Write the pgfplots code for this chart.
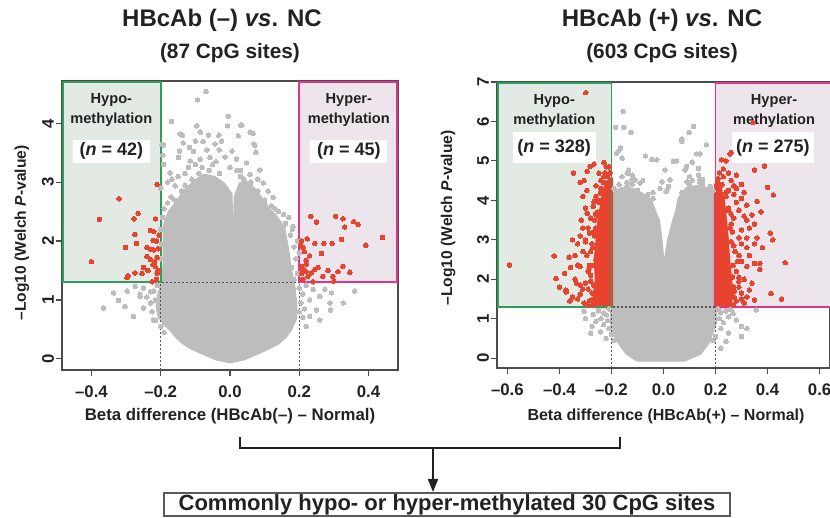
\documentclass[border=0pt]{standalone}
\usepackage{fontspec}
\setmainfont{Liberation Sans}
\usepackage{pgfplots}
\pgfplotsset{compat=1.18}
\usetikzlibrary{arrows.meta}

\definecolor{ptgray}{HTML}{BDBDBD}
\definecolor{ptred}{HTML}{E8432F}
\definecolor{hypofill}{HTML}{E3EAE3}
\definecolor{hyperfill}{HTML}{ECE6EC}
\definecolor{hypoline}{HTML}{2E9E5B}
\definecolor{hyperline}{HTML}{E2338B}
\definecolor{dotcol}{HTML}{555555}
\definecolor{txt}{HTML}{222222}

\pgfplotsset{
  vp/.style={scale only axis, anchor=south west,
    axis line style={draw=gray!60!black, line width=0.6pt},
    tick align=outside, major tick length=3pt, tick pos=left,
    tick style={draw=gray!60!black, line width=0.6pt},
    ticklabel style={font=\fontsize{8.4}{9}\selectfont\bfseries, text=txt},
    yticklabel style={rotate=90, anchor=south},
    xticklabel shift=1.5pt, yticklabel shift=-2.5pt,
    clip=true},
  gp/.style={only marks, mark=*, mark size=1.15pt, color=ptgray, mark options={draw=ptgray, fill=ptgray, line width=0pt}},
  rp/.style={only marks, mark=*, mark size=1.15pt, color=ptred, mark options={draw=ptred, fill=ptred, line width=0pt}},
  gcloud/.style={fill=ptgray, draw=ptgray, line width=1.6pt, line join=round},
  rcloud/.style={fill=ptred, draw=ptred, line width=1.6pt, line join=round},
  dotl/.style={draw=dotcol, dash pattern=on 0.8pt off 1.2pt, line width=0.7pt},
}
\tikzset{
  reglab/.style={font=\fontsize{7.3}{10}\selectfont\bfseries, align=center, text=txt},
  nbox/.style={fill=white, font=\fontsize{9}{10}\selectfont\bfseries, text=txt, inner sep=0pt},
}

\begin{document}
\begin{tikzpicture}
\useasboundingbox (0,0) rectangle (415pt,259pt);

% titles
\node[font=\fontsize{12}{14}\selectfont\bfseries, text=txt] at (111pt,249pt) {HBcAb (–) \textit{vs}. NC};
\node[font=\fontsize{10.4}{12}\selectfont\bfseries, text=txt] at (115pt,232.5pt) {(87 CpG sites)};
\node[font=\fontsize{12}{14}\selectfont\bfseries, text=txt] at (331pt,249pt) {HBcAb (+) \textit{vs}. NC};
\node[font=\fontsize{10.4}{12}\selectfont\bfseries, text=txt] at (331pt,232.5pt) {(603 CpG sites)};

% ---------------- left panel ----------------
\begin{axis}[vp, at={(31pt,74pt)}, width=168pt, height=144.5pt,
  xmin=-0.485, xmax=0.485, ymin=-0.19, ymax=4.72,
  xtick={-0.4,-0.2,0,0.2,0.4}, xticklabels={–0.4,–0.2,0.0,0.2,0.4},
  ytick={0,1,2,3,4}, yticklabels={0,1,2,3,4}]
\addplot[draw=none, fill=hypofill] coordinates {(-0.485,1.3) (-0.2,1.3) (-0.2,4.72) (-0.485,4.72)} -- cycle;
\addplot[draw=none, fill=hyperfill] coordinates {(0.2,1.3) (0.485,1.3) (0.485,4.72) (0.2,4.72)} -- cycle;
% dense non-significant cloud
\addplot[gcloud] coordinates {
(0,-0.05) (-0.04,0.0) (-0.08,0.1) (-0.11,0.18) (-0.135,0.27) (-0.155,0.38) (-0.17,0.49) (-0.19,0.6)
(-0.205,0.72) (-0.21,0.9) (-0.205,1.1) (-0.195,1.3) (-0.19,1.6) (-0.19,2.0) (-0.188,2.3) (-0.175,2.5)
(-0.155,2.65) (-0.13,2.85) (-0.105,3.0) (-0.075,3.12) (-0.045,3.08) (-0.02,2.98) (0.003,2.8) (0.005,1.85)
(0.012,1.85) (0.015,2.75) (0.03,2.98) (0.05,3.0) (0.075,2.85) (0.095,2.68) (0.115,2.52) (0.135,2.4)
(0.155,2.22) (0.165,1.9) (0.175,1.5) (0.185,1.2) (0.19,0.9) (0.19,0.7) (0.175,0.5) (0.16,0.38)
(0.14,0.27) (0.11,0.18) (0.08,0.1) (0.04,0.0)} -- cycle;
\addplot[gp] coordinates {
(-0.069,4.54) (-0.094,4.40) (-0.005,4.12) (-0.169,4.03) (-0.096,3.96) (0.031,3.97) (-0.007,3.96)
(0.058,3.85) (-0.138,3.80) (-0.086,3.85) (-0.062,3.80) (-0.032,3.80) (0.024,3.79) (-0.135,3.67)
(-0.10,3.70) (-0.078,3.69) (-0.024,3.70) (0.069,3.65) (-0.192,3.63) (-0.117,3.59) (-0.043,3.65)
(-0.146,3.53) (-0.105,3.52) (-0.067,3.55) (-0.031,3.55) (0.006,3.53) (0.075,3.51) (-0.149,3.42)
(-0.058,3.42) (-0.014,3.43) (0.019,3.39) (-0.192,3.30) (-0.115,3.36) (-0.086,3.39) (0.048,3.33)
(0.086,3.21) (-0.173,3.16) (0.058,3.13) (0.096,2.99) (0.125,2.74) (0.10,2.62) (0.154,2.25)
(0.182,2.25) (-0.194,3.46) (-0.168,3.05) (-0.158,2.94) (0.034,3.97) (0.067,3.83) (0.072,3.63)
(-0.144,3.82) (-0.197,3.64) (-0.12,3.25) (-0.1,3.3) (-0.04,3.35) (0.0,3.25) (0.03,3.2) (0.08,3.05)
(0.11,2.85) (-0.15,3.1) (-0.13,3.15) (-0.2,2.9) (-0.18,3.0)
(0.16,2.3) (0.175,2.1) (0.185,1.9) (0.19,1.7) (0.178,1.55) (0.195,1.45) (0.185,1.35) (0.17,2.4)
(0.155,2.45) (0.14,2.5) (0.13,2.55) (0.18,2.2) (0.195,2.0) (0.2,1.8)
(0.2,1.2) (0.21,1.1) (0.205,0.95) (0.215,0.85) (0.2,0.8) (0.22,1.25) (0.23,1.0) (0.21,0.7)
(-0.21,1.25) (-0.22,1.15) (-0.215,1.0) (-0.23,0.95) (-0.24,1.05) (-0.225,0.8) (-0.215,0.65)
(-0.2,0.55) (-0.19,0.45) (-0.25,1.2) (-0.26,1.1)
(-0.195,2.4) (-0.19,2.55) (-0.18,2.65) (-0.17,2.75) (-0.2,2.2) (-0.198,1.95) (-0.2,1.7) (-0.16,2.7)
(-0.14,2.85) (-0.13,2.95) (-0.11,3.05) (-0.09,3.15) (-0.06,3.2) (-0.03,3.15) (-0.05,3.3) (-0.08,3.25)
(0.04,3.05) (0.06,3.0) (0.08,2.85) (0.1,2.7) (0.12,2.6) (0.03,3.1) (0.02,3.2)
(-0.365,0.86) (-0.336,1.12) (-0.322,0.99) (-0.303,0.89) (-0.279,0.72) (-0.297,1.15) (-0.274,1.23)
(-0.259,1.06) (-0.25,0.86) (-0.23,1.14) (-0.228,0.95) (-0.221,0.66) (0.24,1.18) (0.259,1.06)
(0.274,1.18) (0.293,1.12) (0.327,0.95) (0.36,1.15) (0.289,0.95) (0.25,0.83) (0.23,0.72)
(0.259,0.66) (0.22,0.55) (0.29,0.83)};
% significant sites
\addplot[rp] coordinates {
(-0.377,2.37) (-0.32,2.72) (-0.21,2.96) (-0.277,2.38) (-0.265,2.47) (-0.215,2.38) (-0.275,2.11)
(-0.23,2.18) (-0.22,2.16) (-0.222,2.01) (-0.212,2.0) (-0.27,1.96) (-0.302,1.89) (-0.24,1.89)
(-0.228,1.86) (-0.207,1.87) (-0.40,1.65) (-0.297,1.38) (-0.294,1.41) (-0.274,1.46) (-0.254,1.45)
(-0.25,1.55) (-0.24,1.74) (-0.23,1.69) (-0.222,1.6) (-0.216,1.57) (-0.21,1.72) (-0.22,1.85)
(-0.225,1.31) (-0.21,1.45) (-0.208,1.5) (-0.237,1.5) (-0.218,1.65) (-0.205,2.1) (-0.212,1.35)};
\addplot[rp] coordinates {
(0.233,2.42) (0.25,2.32) (0.305,2.42) (0.326,2.38) (0.331,2.24) (0.357,2.33) (0.37,2.28)
(0.44,2.06) (0.322,2.03) (0.223,2.04) (0.207,2.0) (0.245,1.96) (0.271,1.96) (0.295,1.96)
(0.392,1.93) (0.211,1.89) (0.264,1.79) (0.22,1.67) (0.207,1.57) (0.21,1.53) (0.22,1.61)
(0.22,1.48) (0.235,1.46) (0.225,1.4) (0.245,1.52) (0.254,1.55) (0.268,1.4) (0.283,1.5)
(0.297,1.4) (0.312,1.48) (0.326,1.57) (0.346,1.47) (0.24,1.31) (0.3,1.32) (0.21,1.35)
(0.215,1.82) (0.207,1.45) (0.23,1.75) (0.205,1.93)};
\addplot[dotl] coordinates {(-0.2,-0.19) (-0.2,4.72)};
\addplot[dotl] coordinates {(0.2,-0.19) (0.2,4.72)};
\addplot[dotl] coordinates {(-0.485,1.3) (0.485,1.3)};
\addplot[draw=hypoline, line width=0.9pt] coordinates {(-0.482,1.3) (-0.2,1.3) (-0.2,4.70) (-0.482,4.70)} -- cycle;
\addplot[draw=hyperline, line width=0.9pt] coordinates {(0.2,1.3) (0.482,1.3) (0.482,4.70) (0.2,4.70)} -- cycle;
\node[reglab] at (axis cs:-0.3425,4.225) {Hypo-\\methylation};
\node[nbox, minimum width=38.5pt, minimum height=11.5pt] at (axis cs:-0.3425,3.53) {(\textit{n} = 42)};
\node[reglab] at (axis cs:0.343,4.225) {Hyper-\\methylation};
\node[nbox, minimum width=38.5pt, minimum height=11.5pt] at (axis cs:0.343,3.53) {(\textit{n} = 45)};
\end{axis}

% ---------------- right panel ----------------
\begin{axis}[vp, at={(248.5pt,75pt)}, width=166.5pt, height=143pt,
  xmin=-0.64, xmax=0.64, ymin=-0.25, ymax=7,
  xtick={-0.6,-0.4,-0.2,0,0.2,0.4,0.6}, xticklabels={–0.6,–0.4,–0.2,0.0,0.2,0.4,0.6},
  ytick={0,1,2,3,4,5,6,7}, yticklabels={0,1,2,3,4,5,6,7}]
\addplot[draw=none, fill=hypofill] coordinates {(-0.64,1.3) (-0.2,1.3) (-0.2,7) (-0.64,7)} -- cycle;
\addplot[draw=none, fill=hyperfill] coordinates {(0.2,1.3) (0.64,1.3) (0.64,7) (0.2,7)} -- cycle;
\addplot[gcloud] coordinates {
(-0.10,-0.05) (-0.14,0.12) (-0.17,0.38) (-0.19,0.63) (-0.2,0.9) (-0.2,4.0) (-0.185,4.2) (-0.16,4.3)
(-0.12,4.28) (-0.08,4.15) (-0.05,4.0) (-0.03,3.65) (-0.02,3.5) (-0.01,3.0) (-0.003,2.5) (0.0,2.4)
(0.008,2.5) (0.02,3.0) (0.04,3.5) (0.05,3.7) (0.06,4.05) (0.09,4.3) (0.13,4.35) (0.17,4.3)
(0.19,4.15) (0.2,4.0) (0.2,0.9) (0.185,0.63) (0.17,0.38) (0.14,0.12) (0.08,-0.05)} -- cycle;
\addplot[gp] coordinates {
(-0.155,6.25) (-0.184,5.85) (-0.153,5.85) (-0.125,5.72) (0.115,5.87) (0.099,5.72) (0.07,5.49)
(0.07,5.55) (0.165,5.41) (-0.165,5.32) (-0.18,5.2) (-0.07,5.13) (-0.045,5.04) (-0.026,5.03)
(0.038,4.99) (0.05,5.0) (0.127,5.18) (0.14,5.18) (0.089,4.86) (0.134,4.64) (0.15,4.53)
(-0.14,4.69) (-0.12,4.64) (-0.08,4.5) (-0.14,4.45) (0.013,4.26) (-0.006,4.47) (0.09,4.47)
(0.14,4.45) (-0.172,5.26) (-0.159,5.07) (0.006,4.77) (0.11,4.97) (0.083,4.77) (0.134,4.81)
(-0.134,4.77) (-0.12,4.52) (-0.11,4.52) (-0.09,4.44) (-0.16,4.6) (0.019,4.35) (0.025,4.52)
(0.1,4.6) (0.14,4.52) (0.16,4.27) (-0.013,4.3) (0.01,4.22) (-0.04,4.2)
(-0.19,4.3) (-0.17,4.4) (-0.14,4.35) (-0.1,4.25) (-0.06,4.15) (-0.04,4.05) (0.07,4.2) (0.1,4.4)
(0.15,4.4) (0.18,4.35) (0.19,4.25) (0.11,4.5) (-0.12,4.4)
(-0.305,1.18) (-0.30,1.0) (-0.274,0.80) (-0.26,0.93) (-0.242,0.67) (-0.23,1.14) (-0.22,0.5)
(-0.27,1.11) (-0.28,0.63) (0.267,1.13) (0.3,0.8) (0.32,0.75) (0.356,1.22) (0.25,0.63) (0.28,0.97)
(0.24,0.42) (0.22,0.25) (0.26,1.24) (0.3,0.55)
(-0.21,1.25) (-0.22,1.1) (-0.215,0.95) (-0.23,0.85) (-0.21,0.75) (-0.25,1.2) (-0.24,1.0) (-0.2,0.6)
(-0.19,0.45) (0.21,1.25) (0.22,1.15) (0.215,1.0) (0.23,0.9) (0.22,0.75) (0.2,0.55) (0.24,1.2)
(0.25,1.05) (0.19,0.45)};
\addplot[rcloud] coordinates {
(-0.2,1.3) (-0.262,1.3) (-0.266,1.6) (-0.258,2.0) (-0.262,2.5) (-0.255,3.0) (-0.25,3.4)
(-0.24,3.8) (-0.23,4.2) (-0.218,4.45) (-0.2,4.55)} -- cycle;
\addplot[rcloud] coordinates {
(0.2,1.3) (0.255,1.3) (0.262,1.6) (0.258,2.0) (0.25,2.5) (0.245,3.0) (0.238,3.5) (0.23,4.0)
(0.218,4.3) (0.2,4.4)} -- cycle;
\addplot[rp] coordinates {
(-0.299,6.73) (-0.346,4.69) (-0.32,4.45) (-0.305,4.5) (-0.293,4.73) (-0.282,4.86) (-0.267,4.92)
(-0.229,4.96) (-0.22,4.85) (-0.248,4.69) (-0.24,4.5) (-0.23,4.6) (-0.218,4.6) (-0.21,4.35)
(-0.26,4.37) (-0.242,4.18) (-0.267,3.97) (-0.293,3.67) (-0.316,3.5) (-0.285,3.17) (-0.33,2.9)
(-0.35,3.0) (-0.25,3.6) (-0.26,3.3)
(-0.592,2.36) (-0.42,2.59) (-0.413,2.02) (-0.375,1.73) (-0.374,1.68) (-0.363,2.56) (-0.357,2.3)
(-0.33,2.36) (-0.32,2.32) (-0.34,2.0) (-0.335,1.9) (-0.35,1.55) (-0.32,1.62) (-0.31,1.75)
(-0.305,1.4) (-0.29,2.2) (-0.287,2.25) (-0.28,1.95) (-0.26,2.5) (-0.26,1.7) (-0.25,2.2)
(-0.24,2.0) (-0.255,1.55) (-0.24,1.4) (-0.29,1.35)
(-0.31,2.7) (-0.32,3.1) (-0.34,2.6) (-0.3,2.95) (-0.31,3.3) (-0.3,3.8) (-0.31,4.1) (-0.295,4.25)
(-0.36,1.45) (-0.33,1.5) (-0.38,2.15) (-0.4,1.8) (-0.32,1.85)
(-0.285,1.45) (-0.29,1.75) (-0.28,2.1) (-0.285,2.35) (-0.28,2.7) (-0.275,2.9) (-0.27,3.2)
(-0.265,3.5) (-0.255,3.7) (-0.25,4.0) (-0.24,4.3) (-0.23,4.45) (-0.215,4.6) (-0.205,4.7)
(-0.225,4.7) (-0.21,4.85) (-0.3,1.9) (-0.295,2.6) (-0.3,3.0) (-0.29,3.3) (-0.28,3.55)
(-0.27,3.85) (-0.26,4.1) (-0.272,1.35) (-0.275,1.65) (-0.27,2.35) (-0.272,2.8) (-0.265,3.1)
(-0.27,1.5) (-0.268,1.85) (-0.262,3.65) (-0.248,3.95)};
\addplot[rp] coordinates {
(0.344,5.97) (0.26,5.21) (0.255,5.18) (0.223,5.03) (0.388,4.87) (0.35,4.77) (0.28,4.64)
(0.25,4.69) (0.208,4.45) (0.22,4.37) (0.27,4.37) (0.3,4.4) (0.4,4.33) (0.422,4.14) (0.24,4.2)
(0.27,4.15) (0.3,4.05) (0.36,3.97) (0.32,3.88) (0.375,3.71) (0.34,3.63) (0.32,3.5) (0.41,3.17)
(0.42,3.0) (0.38,2.8) (0.36,3.05) (0.3,3.25) (0.27,3.55) (0.3,2.9) (0.32,2.8)
(0.468,2.42) (0.413,1.64) (0.454,1.5) (0.35,1.47) (0.37,2.25) (0.37,2.4) (0.35,2.4) (0.32,2.32)
(0.31,2.0) (0.29,1.95) (0.27,1.8) (0.3,1.65) (0.33,1.73) (0.32,1.55) (0.27,1.55) (0.25,1.43)
(0.28,2.2) (0.25,2.3) (0.3,2.45)
(0.31,3.6) (0.33,3.3) (0.35,3.4) (0.29,3.75) (0.31,4.2) (0.28,3.95) (0.33,2.6) (0.35,2.9)
(0.31,1.4) (0.34,1.9) (0.29,3.05) (0.32,3.05) (0.28,4.3) (0.26,4.5) (0.23,4.8) (0.24,5.0)
(0.28,1.45) (0.29,1.8) (0.28,2.2) (0.275,2.7) (0.265,3.2) (0.26,3.4) (0.25,3.8) (0.24,4.1)
(0.225,4.4) (0.21,4.55) (0.29,2.05) (0.285,2.45) (0.3,1.5) (0.27,2.85) (0.29,2.6) (0.26,3.65)
(0.25,4.25) (0.215,4.7) (0.23,4.6) (0.268,1.35) (0.272,1.7) (0.268,2.35) (0.26,2.95)
(0.255,3.3) (0.248,3.75) (0.265,2.05)};
\addplot[dotl] coordinates {(-0.2,-0.25) (-0.2,7)};
\addplot[dotl] coordinates {(0.2,-0.25) (0.2,7)};
\addplot[dotl] coordinates {(-0.64,1.3) (0.64,1.3)};
\addplot[draw=hypoline, line width=0.9pt] coordinates {(-0.636,1.3) (-0.2,1.3) (-0.2,6.97) (-0.636,6.97)} -- cycle;
\addplot[draw=hyperline, line width=0.9pt] coordinates {(0.2,1.3) (0.65,1.3) (0.65,6.97) (0.2,6.97)} -- cycle;
\node[reglab] at (axis cs:-0.42,6.27) {Hypo-\\methylation};
\node[nbox, minimum width=41.5pt, minimum height=15.5pt] at (axis cs:-0.42,5.34) {(\textit{n} = 328)};
\node[reglab] at (axis cs:0.425,6.27) {Hyper-\\methylation};
\node[nbox, minimum width=41pt, minimum height=15.5pt] at (axis cs:0.42,5.34) {(\textit{n} = 275)};
\end{axis}

% axis labels
\node[rotate=90, font=\fontsize{7.8}{9}\selectfont\bfseries, text=txt] at (11pt,142.5pt) {–Log10 (Welch \textit{P}-value)};
\node[rotate=90, font=\fontsize{7.8}{9}\selectfont\bfseries, text=txt] at (224pt,150pt) {–Log10 (Welch \textit{P}-value)};
\node[font=\fontsize{8.4}{10}\selectfont\bfseries, text=txt] at (115pt,51pt) {Beta difference (HBcAb(–) – Normal)};
\node[font=\fontsize{8}{10}\selectfont\bfseries, text=txt] at (333pt,51pt) {Beta difference (HBcAb(+) – Normal)};

% bracket, arrow and summary box
\draw[txt, line width=1pt] (120pt,40.5pt) -- (120pt,35pt) -- (310pt,35pt) -- (310pt,40.5pt);
\draw[txt, line width=1pt, -{Triangle[width=5pt,length=6.5pt]}] (216.5pt,35pt) -- (216.5pt,13pt);
\draw[gray!70!black, line width=0.7pt] (82pt,1pt) rectangle (365pt,12.5pt);
\node[font=\fontsize{11}{12}\selectfont\bfseries, text=txt] at (223.5pt,6.75pt) {Commonly hypo- or hyper-methylated 30 CpG sites};
\end{tikzpicture}
\end{document}
